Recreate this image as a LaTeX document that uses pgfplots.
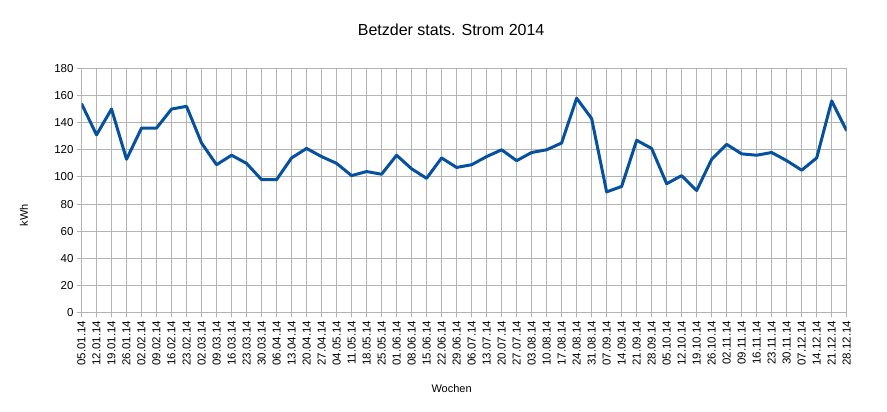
\documentclass[border=0pt]{standalone}
\usepackage{pgfplots}
\pgfplotsset{compat=1.18}
\usepackage{fontspec}
\setmainfont{Liberation Sans}

\definecolor{lineblue}{HTML}{0650A0}
\definecolor{gridgray}{HTML}{B3B3B3}

\begin{document}
\begin{tikzpicture}
\begin{axis}[
    name=ax,
    scale only axis,
    width=765pt, height=244.4pt,
    xmin=0, xmax=51,
    ymin=0, ymax=180,
    xtick={0,...,51},
    xticklabels={05.01.14,12.01.14,19.01.14,26.01.14,02.02.14,09.02.14,16.02.14,23.02.14,
        02.03.14,09.03.14,16.03.14,23.03.14,30.03.14,06.04.14,13.04.14,20.04.14,27.04.14,
        04.05.14,11.05.14,18.05.14,25.05.14,01.06.14,08.06.14,15.06.14,22.06.14,29.06.14,
        06.07.14,13.07.14,20.07.14,27.07.14,03.08.14,10.08.14,17.08.14,24.08.14,31.08.14,
        07.09.14,14.09.14,21.09.14,28.09.14,05.10.14,12.10.14,19.10.14,26.10.14,02.11.14,
        09.11.14,16.11.14,23.11.14,30.11.14,07.12.14,14.12.14,21.12.14,28.12.14},
    ytick={0,20,...,180},
    grid=major,
    major grid style={gridgray, line width=1pt},
    axis line style={gridgray, line width=1pt},
    tick style={gridgray, line width=1pt},
    tick align=outside,
    major tick length=4.5pt,
    tick pos=left,
    /pgf/number format/assume math mode=true,
    ticklabel style={font=\fontsize{11.5}{12}\selectfont, text=black},
    x tick label style={rotate=90, anchor=east},
]
\addplot[lineblue, line width=3pt, line join=round, mark=none] coordinates {
    (0,154) (1,131) (2,150) (3,113) (4,136) (5,136) (6,150) (7,152)
    (8,125) (9,109) (10,116) (11,110) (12,98) (13,98) (14,114) (15,121)
    (16,115) (17,110) (18,101) (19,104) (20,102) (21,116) (22,106) (23,99)
    (24,114) (25,107) (26,109) (27,115) (28,120) (29,112) (30,118) (31,120)
    (32,125) (33,158) (34,143) (35,89) (36,93) (37,127) (38,121) (39,95)
    (40,101) (41,90) (42,113) (43,124) (44,117) (45,116) (46,118) (47,112)
    (48,105) (49,114) (50,156) (51,134)
};
\end{axis}
\node[font=\fontsize{16}{16}\selectfont] at ([shift={(369.5pt,282.7pt)}]ax.south west) {Betzder stats. Strom 2014};
\node[rotate=90, font=\fontsize{11}{11}\selectfont] at ([shift={(-57.5pt,97.7pt)}]ax.south west) {kWh};
\node[font=\fontsize{11}{11}\selectfont] at ([shift={(370pt,-75.3pt)}]ax.south west) {Wochen};
\path ([shift={(-81.5pt,-98.3pt)}]ax.south west) rectangle ([shift={(40.3pt,68.3pt)}]ax.north east);
\end{tikzpicture}
\end{document}
